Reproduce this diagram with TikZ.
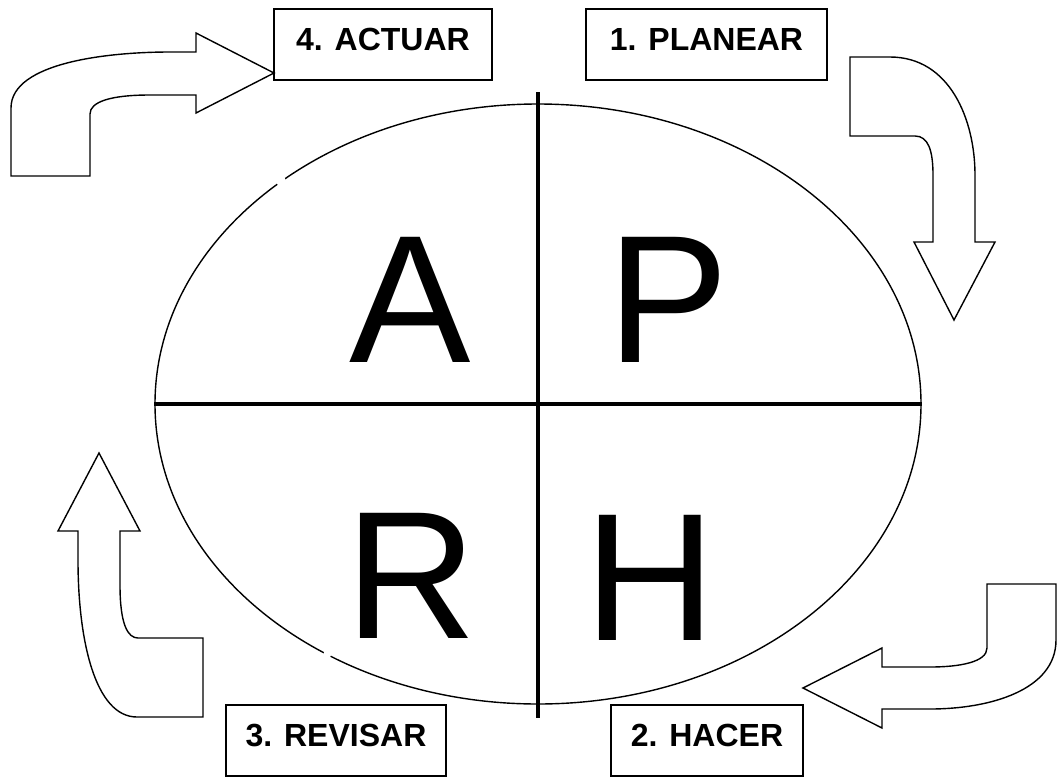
\documentclass[tikz,border=0pt]{standalone}
\usepackage{fontspec}
\setmainfont{Liberation Sans}
\usetikzlibrary{shapes.geometric}
\tikzset{
  caja/.style={draw, line width=2pt, inner sep=0pt, text height=41pt, text depth=30pt,
    minimum height=71pt, font=\bfseries\fontsize{32}{38}\selectfont},
  flecha/.style={draw, line width=1.4pt, line join=miter},
  letra/.style={font=\fontsize{182}{182}\selectfont, inner sep=0pt, anchor=base},
}
\begin{document}
\begin{tikzpicture}[x=1pt,y=-1pt]
\useasboundingbox (0,0) rectangle (1058,777);

% ===== ciclo =====
\node[ellipse, draw, line width=1.4pt, inner sep=0pt, minimum width=766pt, minimum height=600pt] (ciclo) at (538,404) {};
% cortes del contorno
\fill[white] (281,181) circle (5);
\fill[white] (327,655) circle (4);
\draw[line width=4.5pt] ([yshift=11pt]ciclo.north) -- ([yshift=-13pt]ciclo.south);
\draw[line width=4pt] (ciclo.west) -- (ciclo.east);

% ===== letras =====
\node[letra] (A) at (410,362) {A};
\node[letra] (P) at (668,362) {P};
\node[letra] (R) at (411,638) {R};
\node[letra] (H) at (650,640) {H};

% ===== etapas =====
\node[caja, minimum width=218pt] (actuar) at (383,44.5) {4. ACTUAR};
\node[caja, minimum width=241pt] (planear) at (706.5,44.5) {1. PLANEAR};
\node[caja, minimum width=192pt] (hacer) at (707,740.5) {2. HACER};
\node[caja, minimum width=220pt] (revisar) at (336,740.5) {3. REVISAR};

% ===== flechas =====
% actuar
\draw[flecha] (11,176) -- (11,108) .. controls (11,62) and (110,52) .. (170,52)
  -- (196,52) -- (196,33) -- (274,73) -- (196,113) -- (196,95) -- (150,95)
  .. controls (110,95) and (90,102) .. (90,114) -- (90,176) -- cycle;
% planear
\draw[flecha] (850,57) -- (890,57) .. controls (950,57) and (975,120) .. (975,175)
  -- (975,242) -- (995,242) -- (954,320) -- (914,242) -- (933,242) -- (933,175)
  .. controls (933,150) and (928,136) .. (915,136) -- (850,136) -- cycle;
% hacer
\draw[flecha] (987,584) -- (1056,584) -- (1056,640) .. controls (1056,690) and (990,709) .. (930,709)
  -- (882,709) -- (882,728) -- (803,688) -- (882,648) -- (882,667) -- (930,667)
  .. controls (960,667) and (987,662) .. (987,648) -- cycle;
% revisar
\draw[flecha] (203,638) -- (203,717) -- (137,717) .. controls (95,717) and (78,640) .. (78,560)
  -- (78,531) -- (58,531) -- (99,453) -- (140,531) -- (120,531) -- (120,585)
  .. controls (120,625) and (128,638) .. (138,638) -- cycle;

\end{tikzpicture}
\end{document}
